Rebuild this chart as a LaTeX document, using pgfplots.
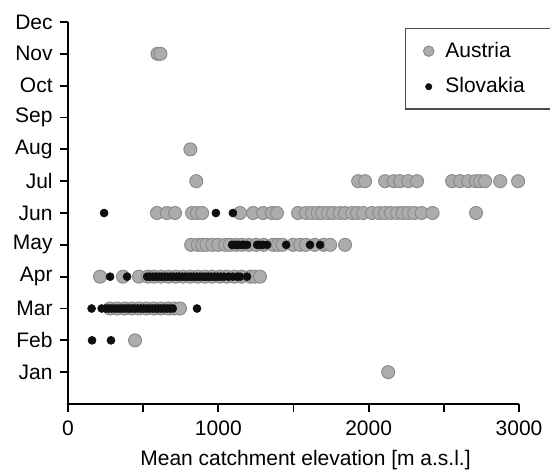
\documentclass[border=0pt]{standalone}
\usepackage{fontspec}
\setmainfont{Liberation Sans}
\usepackage{pgfplots}
\pgfplotsset{compat=1.18}
\definecolor{atfill}{RGB}{172,172,172}
\definecolor{atedge}{RGB}{140,140,140}
\definecolor{sk}{RGB}{15,15,15}
\begin{document}
\fontsize{10.5pt}{12.5pt}\selectfont
\begin{tikzpicture}
\useasboundingbox (-34pt,-34.5pt) rectangle (241pt,202pt);
\begin{axis}[
  scale only axis, width=225.5pt, height=191pt,
  xmin=0, xmax=3000, ymin=0, ymax=12,
  clip=false,
  axis x line*=bottom, axis y line*=left,
  axis line style={line width=1pt, -},
  tick style={line width=0.9pt, black},
  tick align=outside, major tick length=4pt,
  xtick={0,500,...,3000},
  xticklabels={0,,1000,,2000,,3000},
  ytick={1,...,12},
  yticklabels={Jan,Feb,Mar,Apr,May,Jun,Jul,Aug,Sep,Oct,Nov,Dec},
  /pgf/number format/assume math mode=true,
  ticklabel style={font=\fontsize{10.5pt}{12.5pt}\selectfont},
  xticklabel style={yshift=-0.5pt},
  xlabel={Mean catchment elevation [m a.s.l.]},
  xlabel style={font=\fontsize{10.5pt}{12.5pt}\selectfont, yshift=-0.5pt, xshift=6pt},
  legend cell align=left,
  legend image code/.code={\path (-3.25pt,0) (6pt,0); \draw[#1, every mark/.append style={scale=0.8}] plot coordinates {(0pt,0pt)};},
  legend style={at={(axis description cs:0.747,0.984)}, anchor=north west,
    draw=black!70, line width=0.65pt, inner xsep=8pt, inner ysep=4.6pt,
    row sep=4.6pt, font=\fontsize{10.5pt}{12.5pt}\selectfont},
]
\addplot[only marks, mark=*, mark size=3.25pt, mark options={fill=atfill, draw=atedge, line width=0.5pt}] table {
x y
2130 1
446 2
279 3
327 3
376 3
425 3
473 3
522 3
571 3
619 3
668 3
707 3
745 3
213 4
366 4
472 4
532 4
571 4
619 4
668 4
717 4
765 4
814 4
863 4
911 4
960 4
1009 4
1057 4
1106 4
1155 4
1213 4
1244 4
1277 4
819 5
863 5
892 5
921 5
960 5
999 5
1045 5
1077 5
1116 5
1155 5
1203 5
1252 5
1301 5
1364 5
1397 5
1427 5
1497 5
1544 5
1583 5
1641 5
1700 5
1744 5
1843 5
592 6
658 6
712 6
825 6
858 6
892 6
1144 6
1231 6
1298 6
1357 6
1390 6
1530 6
1583 6
1623 6
1661 6
1690 6
1729 6
1763 6
1807 6
1843 6
1890 6
1923 6
1963 6
2023 6
2070 6
2109 6
2148 6
2189 6
2226 6
2263 6
2303 6
2352 6
2425 6
2714 6
853 7
1930 7
1976 7
2109 7
2167 7
2209 7
2263 7
2322 7
2555 7
2608 7
2662 7
2712 7
2741 7
2774 7
2875 7
2994 7
814 8
595 11
615 11
};
\addlegendentry{Austria}
\addplot[only marks, mark=*, mark size=2pt, mark options={fill=sk, draw=sk, line width=0.3pt}] table {
x y
160 2
286 2
157 3
224 3
250 3
269 3
288 3
308 3
327 3
347 3
366 3
386 3
405 3
425 3
444 3
464 3
483 3
503 3
522 3
542 3
561 3
580 3
600 3
619 3
639 3
658 3
678 3
697 3
858 3
280 4
393 4
526 4
546 4
566 4
585 4
605 4
624 4
644 4
663 4
683 4
702 4
722 4
741 4
761 4
780 4
800 4
819 4
838 4
858 4
877 4
897 4
916 4
936 4
955 4
975 4
994 4
1014 4
1038 4
1067 4
1096 4
1126 4
1144 4
1191 4
1091 5
1106 5
1121 5
1135 5
1155 5
1169 5
1191 5
1258 5
1276 5
1296 5
1324 5
1451 5
1610 5
1677 5
240 6
984 6
1097 6
};
\addlegendentry{Slovakia\hspace*{4pt}}
\end{axis}
\end{tikzpicture}
\end{document}
